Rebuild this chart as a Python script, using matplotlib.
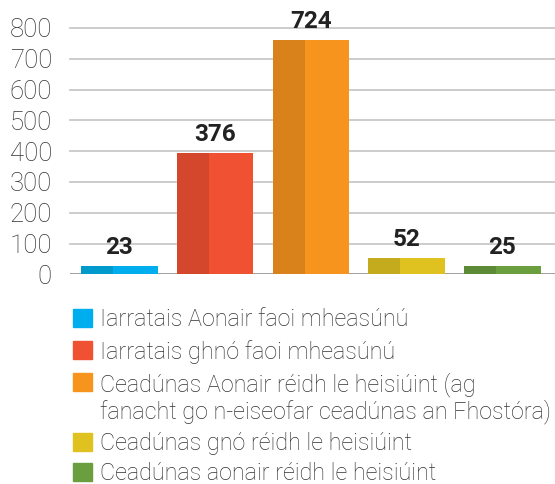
import matplotlib
matplotlib.use("Agg")
import matplotlib.pyplot as plt
from matplotlib.patches import Rectangle

# data
categories = [
    "Iarratais Aonair faoi mheasúnú",
    "Iarratais ghnó faoi mheasúnú",
    "Ceadúnas Aonair réidh le heisiúint (ag\nfanacht go n-eiseofar ceadúnas an Fhostóra)",
    "Ceadúnas gnó réidh le heisiúint",
    "Ceadúnas aonair réidh le heisiúint",
]
bar_heights = [27, 393, 760, 53, 27]   # as drawn on the axis
value_labels = [23, 376, 724, 52, 25]  # printed labels
light_colors = ["#00aeef", "#f05133", "#f7941d", "#dfc21f", "#6a9e3f"]
dark_colors = ["#0099cc", "#d4472c", "#d9821b", "#c4ab1d", "#5c8a37"]
yticks = [0, 100, 200, 300, 400, 500, 600, 700, 800]

W, H = 555, 484
fig = plt.figure(figsize=(W / 100, H / 100), dpi=100)
fig.patch.set_facecolor("white")

# axes placed in pixels: x 70..555, y 28 (800) .. 274 (0)
ax = fig.add_axes([70 / W, 1 - 274.3 / H, (555 - 70) / W, (274.3 - 28) / H])
ax.set_xlim(-0.515, 4.55)
ax.set_ylim(0, 800)

font = "Roboto"
bw = 0.8
x = list(range(len(bar_heights)))
ax.bar(x, bar_heights, width=bw, color=light_colors, zorder=3)
ax.bar([i - bw / 2 for i in x], bar_heights, width=bw * 0.42, align="edge",
       color=dark_colors, zorder=3)

for i, (h, v) in enumerate(zip(bar_heights, value_labels)):
    ax.annotate(str(v), (i, h), xytext=(0, 5), textcoords="offset points",
                ha="center", va="bottom", fontsize=17.5, fontweight="bold",
                family=font, color="#222222", clip_on=False, zorder=4)

for t in yticks[1:]:
    ax.axhline(t, color="#c8c8c8", lw=1.3, zorder=1, clip_on=False)
ax.axhline(0, color="#999999", lw=1.3, zorder=2)

ax.set_yticks(yticks)
ax.set_yticklabels([str(t) for t in yticks], fontsize=18.5, family=font,
                   fontweight="light", color="#333333")
ax.tick_params(axis="y", length=0, pad=13)
ax.set_xticks([])
for s in ax.spines.values():
    s.set_visible(False)

# legend drawn by hand
rows_y = [318, 350, 381.7, 441.7, 471.7]
for col, ty, lab in zip(light_colors, rows_y, categories):
    fig.patches.append(Rectangle((73 / W, 1 - (ty + 9) / H), 19 / W, 18 / H,
                                 transform=fig.transFigure, color=col))
    fig.text(100.5 / W, 1 - (ty - 9.5) / H, lab, ha="left", va="top",
             fontsize=16.8, family=font, fontweight="light", color="#333333",
             linespacing=1.15)

fig.savefig("out.png", dpi=100)
